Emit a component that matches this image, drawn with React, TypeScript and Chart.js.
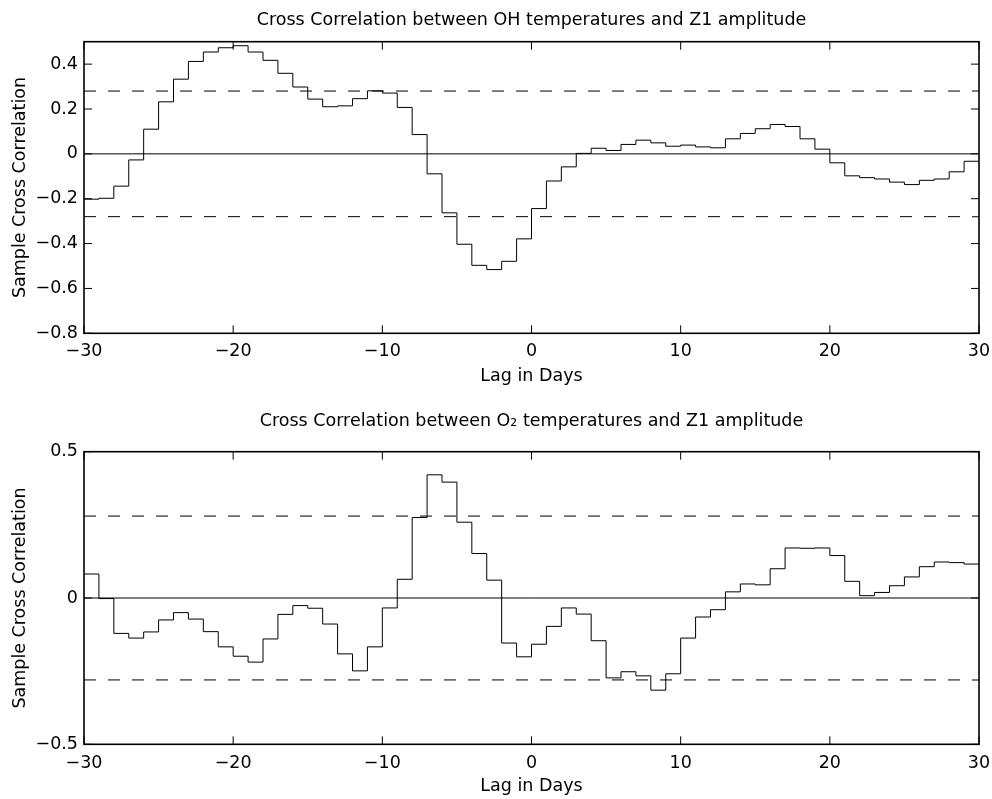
import React, { useEffect, useRef } from "react";
import { Chart, registerables } from "chart.js";

Chart.register(...registerables);

// ---------- data ----------
const lags = [
  -30, -29, -28, -27, -26, -25, -24, -23, -22, -21, -20, -19, -18, -17, -16, -15,
  -14, -13, -12, -11, -10, -9, -8, -7, -6, -5, -4, -3, -2, -1, 0, 1, 2, 3, 4, 5,
  6, 7, 8, 9, 10, 11, 12, 13, 14, 15, 16, 17, 18, 19, 20, 21, 22, 23, 24, 25, 26,
  27, 28, 29, 30,
];

const ohCorr = [
  -0.202, -0.198, -0.144, -0.027, 0.11, 0.232, 0.333, 0.412, 0.454, 0.473, 0.482,
  0.454, 0.417, 0.359, 0.298, 0.244, 0.21, 0.214, 0.246, 0.281, 0.271, 0.207,
  0.086, -0.089, -0.263, -0.403, -0.497, -0.516, -0.479, -0.379, -0.244, -0.121,
  -0.058, 0.002, 0.025, 0.015, 0.042, 0.061, 0.049, 0.034, 0.039, 0.031, 0.027,
  0.067, 0.091, 0.112, 0.131, 0.122, 0.067, 0.021, -0.04, -0.098, -0.106, -0.112,
  -0.126, -0.137, -0.118, -0.112, -0.08, -0.033, -0.033,
];

const o2Corr = [
  0.082, -0.002, -0.121, -0.137, -0.116, -0.075, -0.05, -0.072, -0.115, -0.167,
  -0.199, -0.219, -0.14, -0.056, -0.026, -0.035, -0.089, -0.191, -0.249, -0.167,
  -0.034, 0.064, 0.275, 0.421, 0.396, 0.259, 0.152, 0.061, -0.154, -0.201, -0.158,
  -0.097, -0.034, -0.055, -0.146, -0.273, -0.252, -0.266, -0.315, -0.259, -0.137,
  -0.065, -0.04, 0.021, 0.048, 0.045, 0.1, 0.171, 0.17, 0.171, 0.145, 0.057, 0.008,
  0.019, 0.042, 0.072, 0.107, 0.123, 0.121, 0.116, 0.116,
];

const confBound = 0.28;
const xTicks = [-30, -20, -10, 0, 10, 20, 30];
const ohYTicks = [-0.8, -0.6, -0.4, -0.2, 0, 0.2, 0.4];
const o2YTicks = [-0.5, 0, 0.5];

const ohTitle = "Cross Correlation between OH temperatures and Z1 amplitude";
const o2Title = "Cross Correlation between O\u2082 temperatures and Z1 amplitude";
const xLabel = "Lag in Days";
const yLabel = "Sample Cross Correlation";

// ---------- styling ----------
const FONT_FAMILY = "'DejaVu Sans', 'Liberation Sans', sans-serif";
const FONT_SIZE = 17.5;
const font = { family: FONT_FAMILY, size: FONT_SIZE, weight: "normal" as const };

const fmt = (v: number) => (v < 0 ? "\u2212" + String(Math.abs(v)) : String(v));

const framePlugin = {
  id: "matlabFrame",
  afterDatasetsDraw(chart: any) {
    const { ctx, chartArea } = chart;
    const { left, right, top, bottom } = chartArea;
    const xs = chart.scales.x;
    const ys = chart.scales.y;
    const tl = 8;
    ctx.save();
    ctx.strokeStyle = "#000";
    ctx.lineWidth = 1;
    ctx.beginPath();
    xs.ticks.forEach((t: any) => {
      const px = xs.getPixelForValue(t.value);
      ctx.moveTo(px, bottom);
      ctx.lineTo(px, bottom - tl);
      ctx.moveTo(px, top);
      ctx.lineTo(px, top + tl);
    });
    ys.ticks.forEach((t: any) => {
      const py = ys.getPixelForValue(t.value);
      ctx.moveTo(left, py);
      ctx.lineTo(left + tl, py);
      ctx.moveTo(right, py);
      ctx.lineTo(right - tl, py);
    });
    ctx.stroke();
    ctx.lineWidth = 1.6;
    ctx.strokeRect(left, top, right - left, bottom - top);
    ctx.restore();
  },
};

type PanelProps = {
  top: number;
  height: number;
  title: string;
  values: number[];
  yMin: number;
  yMax: number;
  yTicks: number[];
  titlePadTop: number;
  titlePadBottom: number;
  xAxisHeight: number;
  xTickPad: number;
  xTitlePadBottom: number;
};

function Panel(p: PanelProps) {
  const ref = useRef<HTMLCanvasElement>(null);

  useEffect(() => {
    if (!ref.current) return;
    const stairs = lags.map((l, i) => ({ x: l, y: p.values[i] }));
    const hline = (v: number) => [
      { x: lags[0], y: v },
      { x: lags[lags.length - 1], y: v },
    ];
    const chart = new Chart(ref.current, {
      type: "line",
      data: {
        datasets: [
          {
            data: stairs,
            stepped: true,
            borderColor: "#000",
            borderWidth: 1,
            pointRadius: 0,
            fill: false,
          },
          {
            data: hline(0),
            borderColor: "#000",
            borderWidth: 1,
            pointRadius: 0,
            fill: false,
          },
          {
            data: hline(confBound),
            borderColor: "#000",
            borderWidth: 1,
            borderDash: [12, 12],
            pointRadius: 0,
            fill: false,
          },
          {
            data: hline(-confBound),
            borderColor: "#000",
            borderWidth: 1,
            borderDash: [12, 12],
            pointRadius: 0,
            fill: false,
          },
        ],
      },
      options: {
        responsive: false,
        animation: false,
        events: [],
        layout: { padding: { left: 0, right: 13, top: 0, bottom: 0 } },
        plugins: {
          legend: { display: false },
          tooltip: { enabled: false },
          title: {
            display: true,
            text: p.title,
            fullSize: false,
            color: "#000",
            font,
            padding: { top: p.titlePadTop, bottom: p.titlePadBottom },
          },
        },
        scales: {
          x: {
            type: "linear",
            min: -30,
            max: 30,
            afterBuildTicks: (s: any) => {
              s.ticks = xTicks.map((v) => ({ value: v }));
            },
            afterFit: (s: any) => {
              s.height = p.xAxisHeight;
              s.paddingLeft = 0;
              s.paddingRight = 0;
            },
            grid: { display: false, drawTicks: false },
            border: { display: false },
            ticks: {
              color: "#000",
              font,
              padding: p.xTickPad,
              maxRotation: 0,
              autoSkip: false,
              callback: (v: any) => fmt(Number(v)),
            },
            title: {
              display: true,
              text: xLabel,
              color: "#000",
              font,
              padding: { top: 0, bottom: p.xTitlePadBottom },
            },
          },
          y: {
            type: "linear",
            min: p.yMin,
            max: p.yMax,
            afterBuildTicks: (s: any) => {
              s.ticks = p.yTicks.map((v) => ({ value: v }));
            },
            afterFit: (s: any) => {
              s.width = 84;
              s.paddingTop = 0;
              s.paddingBottom = 0;
            },
            grid: { display: false, drawTicks: false },
            border: { display: false },
            ticks: {
              color: "#000",
              font,
              padding: 6,
              autoSkip: false,
              callback: (v: any) => fmt(Number(v)),
            },
            title: {
              display: true,
              text: yLabel,
              color: "#000",
              font,
              padding: { top: 10, bottom: 0 },
            },
          },
        },
      },
      plugins: [framePlugin],
    } as any);
    return () => chart.destroy();
  }, []);

  return (
    <canvas
      ref={ref}
      width={992}
      height={p.height}
      style={{ position: "absolute", left: 0, top: p.top, width: 992, height: p.height }}
    />
  );
}

export default function App() {
  return (
    <div
      style={{
        position: "absolute",
        left: 0,
        top: 0,
        width: 992,
        height: 799,
        background: "#fff",
      }}
    >
      <Panel
        top={0}
        height={400}
        title={ohTitle}
        values={ohCorr}
        yMin={-0.8}
        yMax={0.5}
        yTicks={ohYTicks}
        titlePadTop={9.8}
        titlePadBottom={10.9}
        xAxisHeight={66.7}
        xTickPad={8}
        xTitlePadBottom={13.5}
      />
      <Panel
        top={400}
        height={399}
        title={o2Title}
        values={o2Corr}
        yMin={-0.5}
        yMax={0.5}
        yTicks={o2YTicks}
        titlePadTop={10.5}
        titlePadBottom={20.2}
        xAxisHeight={54.7}
        xTickPad={9}
        xTitlePadBottom={1.8}
      />
    </div>
  );
}
